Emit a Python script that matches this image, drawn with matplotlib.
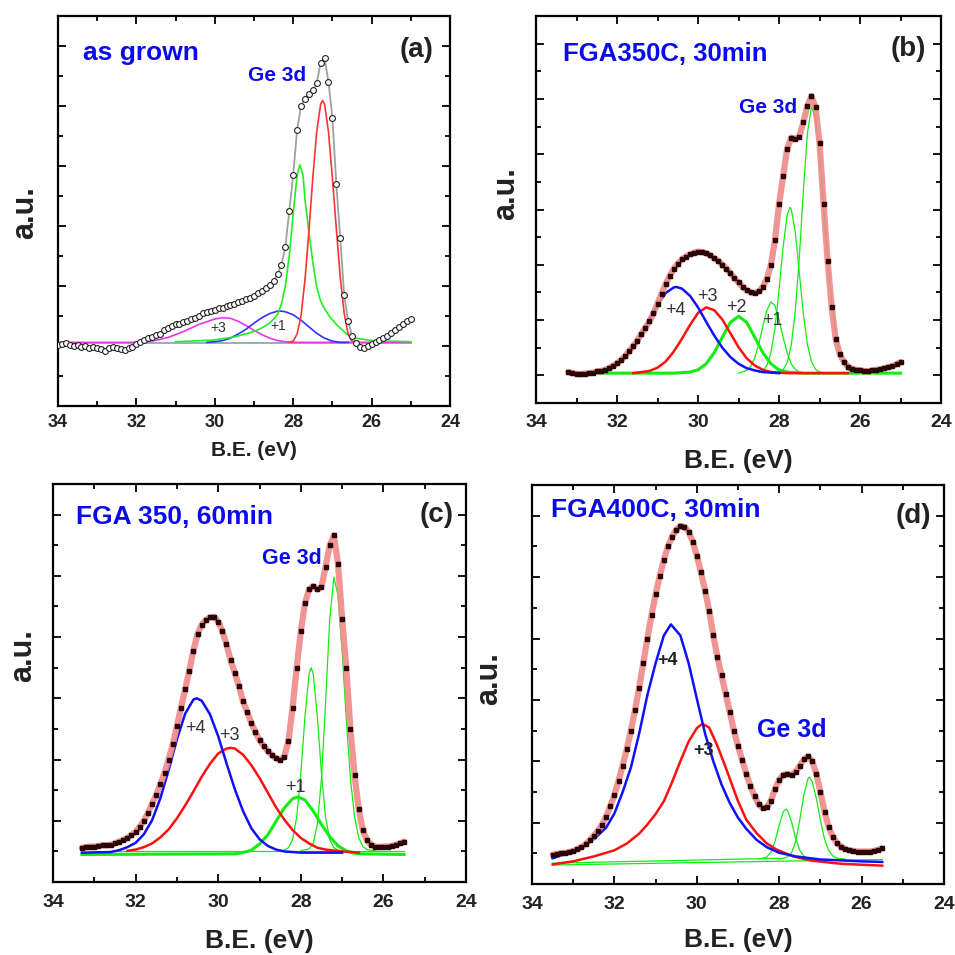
import numpy as np
import matplotlib
matplotlib.use("Agg")
import matplotlib.pyplot as plt
from matplotlib.ticker import MultipleLocator

plt.rcParams["font.family"] = ["Liberation Sans", "DejaVu Sans"]

xticks = [34, 32, 30, 28, 26, 24]
xtick_labels = ["34", "32", "30", "28", "26", "24"]

# ---- (a) as grown ----
a_be = [34.0, 33.9, 33.8, 33.7, 33.6, 33.5, 33.4, 33.3, 33.2, 33.1,
        33.0, 32.9, 32.8, 32.7, 32.6, 32.5, 32.4, 32.3, 32.2, 32.1,
        32.0, 31.9, 31.8, 31.7, 31.6, 31.5, 31.4, 31.3, 31.2, 31.1,
        31.0, 30.9, 30.8, 30.7, 30.6, 30.5, 30.4, 30.3, 30.2, 30.1,
        30.0, 29.9, 29.8, 29.7, 29.6, 29.5, 29.4, 29.3, 29.2, 29.1,
        29.0, 28.9, 28.8, 28.7, 28.6, 28.5, 28.4, 28.3, 28.2, 28.1,
        28.0, 27.9, 27.8, 27.7, 27.6, 27.5, 27.4, 27.3, 27.2, 27.1,
        27.0, 26.9, 26.8, 26.7, 26.6, 26.5, 26.4, 26.3, 26.2, 26.1,
        26.0, 25.9, 25.8, 25.7, 25.6, 25.5, 25.4, 25.3, 25.2, 25.1,
        25.0]
a_cnt = [1.02, 1.03, 1.05, 1.02, 1.00, 1.01, 0.99, 1.00, 0.97, 0.99,
         0.96, 0.95, 0.92, 0.96, 0.99, 0.97, 0.95, 0.93, 0.97, 0.99,
         1.03, 1.07, 1.10, 1.13, 1.15, 1.18, 1.20, 1.27, 1.30, 1.33,
         1.36, 1.37, 1.40, 1.42, 1.45, 1.47, 1.50, 1.55, 1.57, 1.58,
         1.60, 1.63, 1.64, 1.67, 1.69, 1.70, 1.73, 1.75, 1.78, 1.80,
         1.83, 1.88, 1.92, 1.96, 2.02, 2.08, 2.20, 2.35, 2.65, 3.25,
         3.85, 4.60, 5.00, 5.12, 5.20, 5.26, 5.38, 5.72, 5.80, 5.40,
         4.80, 3.70, 2.80, 1.85, 1.42, 1.17, 1.05, 0.98, 0.96, 1.00,
         1.03, 1.06, 1.10, 1.13, 1.17, 1.22, 1.27, 1.32, 1.36, 1.42,
         1.45]
a_red_be = [28.1, 28.0, 27.9, 27.8, 27.7, 27.6, 27.5, 27.4, 27.3, 27.25,
            27.2, 27.1, 27.0, 26.9, 26.8, 26.7, 26.6, 26.5, 26.4]
a_red = [1.06, 1.08, 1.20, 1.50, 2.10, 2.90, 3.80, 4.57, 5.03, 5.09,
         5.03, 4.57, 3.80, 2.96, 2.15, 1.55, 1.20, 1.08, 1.06]
a_grn_be = [31.0, 30.0, 29.5, 29.0, 28.8, 28.6, 28.4, 28.3, 28.2, 28.1,
            28.0, 27.9, 27.83, 27.75, 27.7, 27.6, 27.5, 27.4, 27.3, 27.2,
            27.06, 26.9, 26.64, 26.4, 26.0, 25.0]
a_grn = [1.07, 1.10, 1.15, 1.24, 1.30, 1.38, 1.52, 1.70, 2.00, 2.50,
         3.20, 3.85, 4.02, 3.85, 3.45, 2.90, 2.40, 1.98, 1.75, 1.62,
         1.48, 1.36, 1.20, 1.13, 1.09, 1.07]
a_blu_be = [30.2, 30.0, 29.8, 29.6, 29.4, 29.2, 29.0, 28.8, 28.6, 28.4,
            28.3, 28.2, 28.0, 27.8, 27.6, 27.4, 27.2, 27.0, 26.8, 26.6]
a_blu = [1.06, 1.07, 1.09, 1.13, 1.20, 1.28, 1.38, 1.47, 1.54, 1.58,
         1.58, 1.57, 1.52, 1.43, 1.32, 1.21, 1.13, 1.08, 1.06, 1.06]
a_mag_be = [34.0, 32.0, 31.6, 31.2, 30.8, 30.4, 30.0, 29.8, 29.6, 29.4,
            29.2, 29.0, 28.8, 28.6, 28.4, 28.2, 28.0, 25.0]
a_mag = [1.06, 1.06, 1.08, 1.14, 1.24, 1.36, 1.45, 1.47, 1.46, 1.41,
         1.34, 1.26, 1.19, 1.13, 1.09, 1.07, 1.06, 1.06]
a_base_be = [34.0, 25.0]
a_base = [1.05, 1.05]

# ---- (b) FGA 350C 30 min ----
b_be = [33.2, 33.1, 33.0, 32.9, 32.8, 32.7, 32.6, 32.5, 32.4, 32.3,
        32.2, 32.1, 32.0, 31.9, 31.8, 31.7, 31.6, 31.5, 31.4, 31.3,
        31.2, 31.1, 31.0, 30.9, 30.8, 30.7, 30.6, 30.5, 30.4, 30.3,
        30.2, 30.1, 30.0, 29.9, 29.8, 29.7, 29.6, 29.5, 29.4, 29.3,
        29.2, 29.1, 29.0, 28.9, 28.8, 28.7, 28.6, 28.5, 28.4, 28.3,
        28.2, 28.1, 28.0, 27.9, 27.8, 27.7, 27.6, 27.5, 27.4, 27.3,
        27.2, 27.1, 27.0, 26.9, 26.8, 26.7, 26.6, 26.5, 26.4, 26.3,
        26.2, 26.1, 26.0, 25.9, 25.8, 25.7, 25.6, 25.5, 25.4, 25.3,
        25.2, 25.1, 25.0]
b_cnt = [0.06, 0.04, 0.03, 0.02, 0.03, 0.04, 0.05, 0.07, 0.08, 0.10,
         0.13, 0.17, 0.22, 0.28, 0.35, 0.44, 0.53, 0.63, 0.75, 0.86,
         0.98, 1.12, 1.30, 1.48, 1.65, 1.80, 1.93, 2.02, 2.10, 2.15,
         2.19, 2.22, 2.24, 2.23, 2.21, 2.17, 2.12, 2.07, 2.00, 1.93,
         1.85, 1.76, 1.68, 1.60, 1.54, 1.50, 1.49, 1.52, 1.60, 1.75,
         2.00, 2.45, 3.10, 3.60, 4.10, 4.30, 4.28, 4.32, 4.58, 4.88,
         5.05, 4.85, 4.20, 3.10, 2.06, 1.23, 0.65, 0.38, 0.25, 0.16,
         0.12, 0.10, 0.09, 0.08, 0.07, 0.09, 0.10, 0.11, 0.13, 0.15,
         0.17, 0.20, 0.24]
b_blu_be = [33.2, 32.6, 32.2, 32.0, 31.8, 31.6, 31.4, 31.2, 31.0, 30.8,
            30.6, 30.54, 30.4, 30.2, 30.0, 29.8, 29.6, 29.4, 29.2, 29.0,
            28.8, 28.6, 28.4, 28.0]
b_blu = [0.04, 0.05, 0.12, 0.20, 0.32, 0.50, 0.74, 1.01, 1.28, 1.49,
         1.59, 1.60, 1.57, 1.44, 1.23, 0.97, 0.72, 0.50, 0.33, 0.21,
         0.13, 0.09, 0.06, 0.04]
b_red_be = [31.6, 31.2, 31.0, 30.8, 30.6, 30.4, 30.2, 30.0, 29.8, 29.6,
            29.4, 29.2, 29.0, 28.8, 28.6, 28.4, 28.2, 27.8, 26.3]
b_red = [0.04, 0.08, 0.14, 0.25, 0.43, 0.66, 0.91, 1.13, 1.23, 1.18,
         1.01, 0.76, 0.51, 0.31, 0.18, 0.10, 0.06, 0.04, 0.04]
b_g2_be = [33.2, 30.6, 30.2, 30.0, 29.8, 29.6, 29.4, 29.2, 29.0, 28.8,
           28.6, 28.4, 28.2, 28.0, 27.8, 27.4, 25.0]
b_g2 = [0.04, 0.04, 0.06, 0.10, 0.21, 0.41, 0.69, 0.96, 1.07, 0.96,
        0.69, 0.41, 0.21, 0.10, 0.06, 0.04, 0.04]
b_g1_be = [29.0, 28.8, 28.7, 28.6, 28.5, 28.4, 28.3, 28.2, 28.1, 28.0,
           27.9, 27.8, 27.7, 27.6, 27.5, 27.3]
b_g1 = [0.04, 0.09, 0.16, 0.32, 0.57, 0.89, 1.18, 1.33, 1.26, 1.01,
        0.69, 0.41, 0.21, 0.11, 0.06, 0.04]
b_gm_be = [28.5, 28.4, 28.3, 28.2, 28.1, 28.0, 27.9, 27.8, 27.73, 27.7,
           27.6, 27.5, 27.4, 27.3, 27.2, 27.1, 27.0, 26.8]
b_gm = [0.05, 0.08, 0.18, 0.41, 0.86, 1.55, 2.32, 2.90, 3.04, 3.01,
        2.60, 1.86, 1.11, 0.56, 0.25, 0.11, 0.06, 0.04]
b_gt_be = [28.0, 27.9, 27.8, 27.7, 27.6, 27.5, 27.4, 27.3, 27.2, 27.1,
           27.0, 26.9, 26.8, 26.7, 26.6, 26.5, 26.4, 26.3, 26.2, 26.0]
b_gt = [0.06, 0.10, 0.23, 0.54, 1.16, 2.13, 3.33, 4.38, 4.86, 4.65,
        3.98, 3.06, 2.11, 1.31, 0.74, 0.38, 0.19, 0.10, 0.06, 0.04]

# ---- (c) FGA 350 60 min ----
c_be = [33.3, 33.2, 33.1, 33.0, 32.9, 32.8, 32.7, 32.6, 32.5, 32.4,
        32.3, 32.2, 32.1, 32.0, 31.9, 31.8, 31.7, 31.6, 31.5, 31.4,
        31.3, 31.2, 31.1, 31.0, 30.9, 30.8, 30.7, 30.6, 30.5, 30.4,
        30.3, 30.2, 30.1, 30.0, 29.9, 29.8, 29.7, 29.6, 29.5, 29.4,
        29.3, 29.2, 29.1, 29.0, 28.9, 28.8, 28.7, 28.6, 28.5, 28.4,
        28.3, 28.2, 28.1, 28.0, 27.9, 27.8, 27.7, 27.6, 27.5, 27.4,
        27.3, 27.2, 27.1, 27.0, 26.9, 26.8, 26.7, 26.6, 26.5, 26.4,
        26.3, 26.2, 26.1, 26.0, 25.9, 25.8, 25.7, 25.6, 25.5]
c_cnt = [0.56, 0.57, 0.58, 0.58, 0.59, 0.60, 0.60, 0.61, 0.63, 0.66,
         0.69, 0.72, 0.77, 0.82, 0.90, 1.00, 1.13, 1.28, 1.42, 1.60,
         1.78, 2.00, 2.25, 2.55, 2.85, 3.15, 3.45, 3.78, 4.05, 4.20,
         4.28, 4.32, 4.33, 4.25, 4.10, 3.88, 3.62, 3.42, 3.20, 2.95,
         2.78, 2.60, 2.45, 2.32, 2.22, 2.14, 2.07, 2.02, 1.99, 2.05,
         2.30, 2.85, 3.50, 4.10, 4.55, 4.78, 4.83, 4.78, 4.82, 5.15,
         5.50, 5.66, 5.20, 4.30, 3.50, 2.50, 1.75, 1.20, 0.85, 0.68,
         0.61, 0.58, 0.57, 0.58, 0.58, 0.59, 0.61, 0.63, 0.66]
c_blu_be = [33.3, 32.6, 32.4, 32.2, 32.0, 31.8, 31.6, 31.4, 31.2, 31.0,
            30.8, 30.6, 30.52, 30.4, 30.2, 30.0, 29.8, 29.6, 29.4, 29.2,
            29.0, 28.8, 28.6, 28.4, 28.0, 27.0]
c_blu = [0.48, 0.49, 0.52, 0.57, 0.64, 0.78, 1.01, 1.37, 1.83, 2.33,
         2.75, 2.98, 3.00, 2.96, 2.74, 2.38, 1.94, 1.52, 1.16, 0.88,
         0.70, 0.59, 0.53, 0.50, 0.48, 0.48]
c_red_be = [32.2, 32.0, 31.8, 31.6, 31.4, 31.2, 31.0, 30.8, 30.6, 30.4,
            30.2, 30.0, 29.8, 29.7, 29.6, 29.4, 29.2, 29.0, 28.8, 28.6,
            28.4, 28.2, 28.0, 27.8, 27.6, 27.4, 27.0, 26.6]
c_red = [0.51, 0.53, 0.57, 0.63, 0.73, 0.86, 1.04, 1.25, 1.48, 1.72,
         1.93, 2.10, 2.18, 2.19, 2.18, 2.08, 1.91, 1.70, 1.46, 1.22,
         1.02, 0.85, 0.72, 0.63, 0.56, 0.53, 0.50, 0.48]
c_g1_be = [33.3, 29.6, 29.4, 29.2, 29.0, 28.8, 28.6, 28.4, 28.2, 28.07,
           27.9, 27.7, 27.5, 27.3, 27.1, 26.9, 26.7, 26.5, 25.5]
c_g1 = [0.45, 0.46, 0.48, 0.52, 0.62, 0.77, 0.99, 1.21, 1.36, 1.39,
        1.34, 1.16, 0.94, 0.74, 0.59, 0.51, 0.47, 0.46, 0.45]
c_gm_be = [28.5, 28.4, 28.3, 28.2, 28.1, 28.0, 27.9, 27.8, 27.75, 27.7,
           27.6, 27.5, 27.4, 27.3, 27.2, 27.1, 27.0]
c_gm = [0.51, 0.52, 0.56, 0.69, 1.06, 1.77, 2.70, 3.40, 3.50, 3.40,
        2.70, 1.77, 1.06, 0.69, 0.56, 0.52, 0.51]
c_gt_be = [28.0, 27.8, 27.7, 27.6, 27.5, 27.4, 27.3, 27.2, 27.1, 27.0,
           26.9, 26.8, 26.7, 26.6, 26.5, 26.4, 26.2]
c_gt = [0.51, 0.54, 0.63, 0.94, 1.69, 2.94, 4.29, 4.98, 4.68, 3.78,
        2.66, 1.70, 1.07, 0.73, 0.58, 0.53, 0.51]
c_base_be = [32.6, 25.5]
c_base = [0.51, 0.51]

# ---- (d) FGA 400C 30 min ----
d_be = [33.5, 33.4, 33.3, 33.2, 33.1, 33.0, 32.9, 32.8, 32.7, 32.6,
        32.5, 32.4, 32.3, 32.2, 32.1, 32.0, 31.9, 31.8, 31.7, 31.6,
        31.5, 31.4, 31.3, 31.2, 31.1, 31.0, 30.9, 30.8, 30.7, 30.6,
        30.5, 30.4, 30.3, 30.2, 30.1, 30.0, 29.9, 29.8, 29.7, 29.6,
        29.5, 29.4, 29.3, 29.2, 29.1, 29.0, 28.9, 28.8, 28.7, 28.6,
        28.5, 28.4, 28.3, 28.2, 28.1, 28.0, 27.9, 27.8, 27.7, 27.6,
        27.5, 27.4, 27.3, 27.2, 27.1, 27.0, 26.9, 26.8, 26.7, 26.6,
        26.5, 26.4, 26.3, 26.2, 26.1, 26.0, 25.9, 25.8, 25.7, 25.6,
        25.5]
d_cnt = [0.48, 0.49, 0.50, 0.51, 0.52, 0.54, 0.57, 0.60, 0.65, 0.71,
         0.79, 0.87, 0.97, 1.10, 1.27, 1.45, 1.68, 1.93, 2.20, 2.50,
         2.83, 3.20, 3.60, 4.00, 4.38, 4.72, 5.02, 5.28, 5.50, 5.66,
         5.77, 5.83, 5.82, 5.74, 5.58, 5.35, 5.08, 4.78, 4.45, 4.05,
         3.70, 3.40, 3.10, 2.80, 2.50, 2.25, 2.02, 1.80, 1.60, 1.43,
         1.30, 1.24, 1.25, 1.36, 1.55, 1.70, 1.78, 1.79, 1.78, 1.83,
         1.93, 2.03, 2.08, 2.00, 1.80, 1.50, 1.18, 0.93, 0.77, 0.67,
         0.61, 0.57, 0.55, 0.54, 0.53, 0.53, 0.53, 0.53, 0.54, 0.56,
         0.58]
d_blu_be = [33.5, 33.1, 32.8, 32.5, 32.2, 32.0, 31.8, 31.6, 31.4, 31.2,
            31.0, 30.8, 30.63, 30.4, 30.2, 30.0, 29.8, 29.6, 29.4, 29.2,
            29.0, 28.8, 28.55, 28.3, 28.0, 27.6, 27.0, 26.0, 25.5]
d_blu = [0.42, 0.51, 0.60, 0.73, 0.92, 1.15, 1.50, 1.90, 2.45, 3.08,
         3.60, 4.05, 4.23, 4.05, 3.60, 3.02, 2.45, 2.00, 1.62, 1.32,
         1.08, 0.90, 0.72, 0.60, 0.51, 0.45, 0.40, 0.37, 0.36]
d_red_be = [33.5, 33.0, 32.5, 32.0, 31.7, 31.4, 31.2, 31.0, 30.8, 30.6,
            30.4, 30.2, 30.0, 29.87, 29.7, 29.5, 29.3, 29.0, 28.8, 28.55,
            28.3, 28.06, 27.66, 27.2, 26.5, 25.5]
d_red = [0.32, 0.37, 0.45, 0.55, 0.66, 0.82, 0.97, 1.14, 1.35, 1.66,
         2.00, 2.32, 2.54, 2.61, 2.55, 2.25, 1.90, 1.35, 1.05, 0.83,
         0.66, 0.56, 0.45, 0.38, 0.33, 0.30]
d_g1_be = [28.5, 28.4, 28.3, 28.2, 28.1, 28.0, 27.9, 27.84, 27.8, 27.7,
           27.6, 27.5, 27.4, 27.3, 27.1]
d_g1 = [0.41, 0.42, 0.44, 0.52, 0.70, 0.96, 1.18, 1.22, 1.20, 1.01,
        0.74, 0.55, 0.45, 0.42, 0.41]
d_g2_be = [28.0, 27.9, 27.8, 27.7, 27.6, 27.5, 27.4, 27.3, 27.27, 27.2,
           27.1, 27.0, 26.9, 26.8, 26.7, 26.6, 26.4]
d_g2 = [0.41, 0.42, 0.44, 0.51, 0.70, 1.05, 1.46, 1.72, 1.74, 1.67,
        1.40, 1.04, 0.73, 0.55, 0.46, 0.42, 0.41]
d_base1_be = [33.5, 25.5]
d_base1 = [0.31, 0.40]
d_base2_be = [33.5, 28.0]
d_base2 = [0.34, 0.42]

BLUE = "#1010ff"
RED = "#ff1010"
GREEN = "#10ee10"
TXT_BLUE = "#0a0aee"
PINK = "#f08888"
DOT = "#2a0505"


def frame(ax, ylo, pad, tick_fs, xl_fs, xl_y, au_x, au_y):
    ax.set_xlim(34, 24)
    ax.set_ylim(ylo, 6.5)
    ax.set_xticks(xticks)
    ax.set_xticklabels(xtick_labels, fontweight="bold", fontsize=tick_fs, color="#222222")
    ax.xaxis.set_minor_locator(MultipleLocator(1))
    ax.yaxis.set_major_locator(MultipleLocator(1))
    ax.yaxis.set_minor_locator(MultipleLocator(0.5))
    ax.tick_params(which="both", direction="in", top=True, right=True,
                   width=1.3, labelleft=False)
    ax.tick_params(which="major", length=6, pad=pad)
    ax.tick_params(which="minor", length=3.5)
    for s in ax.spines.values():
        s.set_linewidth(1.6)
    ax.text(0.5, xl_y, "B.E. (eV)", transform=ax.transAxes, ha="center", va="center",
            fontsize=xl_fs, fontweight="bold", color="#222222")
    ax.text(au_x, au_y, "a.u.", transform=ax.transAxes, ha="center", va="center",
            rotation=90, fontsize=22, fontweight="bold", color="#222222")


def measured(ax, be, cnt):
    ax.plot(be, cnt, color=PINK, lw=4.5, alpha=0.9, solid_capstyle="round", zorder=3)
    ax.plot(be, cnt, "s", color=DOT, ms=2.2, zorder=4)


fig = plt.figure(figsize=(9.55, 9.55), dpi=100)

# (a)
ax = fig.add_axes([0.0607, 0.5749, 0.4105, 0.4084])
ax.plot(a_base_be, a_base, color="#7aa7b0", lw=1.2)
ax.plot(a_mag_be, a_mag, color="#ee33ee", lw=1.2)
ax.plot(a_blu_be, a_blu, color="#3333ff", lw=1.2)
ax.plot(a_grn_be, a_grn, color="#22ee22", lw=1.2)
ax.plot(a_red_be, a_red, color="#ff3333", lw=1.2)
ax.plot(a_be, a_cnt, color="#a0a0a0", lw=1.3, marker="o", ms=4.2, mfc="white",
        mec="#222222", mew=0.8, zorder=4)
ax.text(33.36, 5.76, "as grown", color=TXT_BLUE, fontsize=19, fontweight="bold")
ax.text(24.43, 5.94, "(a)", ha="right", va="center", fontsize=20, fontweight="bold",
        color="#222222")
ax.text(29.15, 5.41, "Ge 3d", color=TXT_BLUE, fontsize=15, fontweight="bold")
ax.text(29.91, 1.30, "+3", ha="center", va="center", fontsize=10, color="#333333")
ax.text(28.39, 1.34, "+1", ha="center", va="center", fontsize=10, color="#333333")
frame(ax, 0, 6, 13, 15, -0.115, -0.084, 0.495)

# (b)
ax = fig.add_axes([0.5613, 0.578, 0.4241, 0.4052])
ax.plot(b_g2_be, b_g2, color=GREEN, lw=2.2)
ax.plot(b_g1_be, b_g1, color=GREEN, lw=0.9)
ax.plot(b_gm_be, b_gm, color=GREEN, lw=0.9)
ax.plot(b_gt_be, b_gt, color=GREEN, lw=0.9)
ax.plot(b_red_be, b_red, color=RED, lw=1.8)
ax.plot(b_blu_be, b_blu, color=BLUE, lw=1.8)
measured(ax, b_be, b_cnt)
ax.text(33.33, 5.69, "FGA350C, 30min", color=TXT_BLUE, fontsize=18.5, fontweight="bold")
ax.text(24.37, 5.90, "(b)", ha="right", va="center", fontsize=20, fontweight="bold",
        color="#222222")
ax.text(29.0, 4.74, "Ge 3d", color=TXT_BLUE, fontsize=15, fontweight="bold")
for lbl, x, y in [("+4", 30.57, 1.17), ("+3", 29.78, 1.43), ("+2", 29.05, 1.23),
                  ("+1", 28.17, 0.99)]:
    ax.text(x, y, lbl, ha="center", va="center", fontsize=13, color="#333333", zorder=5)
frame(ax, -0.5, 8, 14, 19, -0.15, -0.074, 0.54)

# (c)
ax = fig.add_axes([0.0555, 0.0764, 0.4325, 0.4168])
ax.plot(c_g1_be, c_g1, color=GREEN, lw=2.2)
ax.plot(c_base_be, c_base, color=GREEN, lw=0.9)
ax.plot(c_gm_be, c_gm, color=GREEN, lw=0.9)
ax.plot(c_gt_be, c_gt, color=GREEN, lw=0.9)
ax.plot(c_red_be, c_red, color=RED, lw=1.8)
ax.plot(c_blu_be, c_blu, color=BLUE, lw=1.8)
measured(ax, c_be, c_cnt)
ax.text(33.44, 5.85, "FGA 350, 60min", color=TXT_BLUE, fontsize=19, fontweight="bold")
ax.text(24.31, 5.99, "(c)", ha="right", va="center", fontsize=20, fontweight="bold",
        color="#222222")
ax.text(28.93, 5.20, "Ge 3d", color=TXT_BLUE, fontsize=15.5, fontweight="bold")
for lbl, x, y in [("+4", 30.56, 2.51), ("+3", 29.73, 2.39), ("+1", 28.14, 1.54)]:
    ax.text(x, y, lbl, ha="center", va="center", fontsize=13, color="#333333", zorder=5)
frame(ax, 0, 8.5, 14, 19, -0.148, -0.073, 0.57)

# (d)
ax = fig.add_axes([0.5571, 0.0743, 0.4314, 0.4178])
ax.plot(d_base1_be, d_base1, color=GREEN, lw=0.9)
ax.plot(d_base2_be, d_base2, color=GREEN, lw=0.9)
ax.plot(d_g1_be, d_g1, color=GREEN, lw=0.9)
ax.plot(d_g2_be, d_g2, color=GREEN, lw=0.9)
ax.plot(d_red_be, d_red, color=RED, lw=1.8)
ax.plot(d_blu_be, d_blu, color=BLUE, lw=1.8)
measured(ax, d_be, d_cnt)
ax.text(33.53, 5.98, "FGA400C, 30min", color=TXT_BLUE, fontsize=19, fontweight="bold")
ax.text(24.31, 5.99, "(d)", ha="right", va="center", fontsize=20, fontweight="bold",
        color="#222222")
ax.text(28.55, 2.39, "Ge 3d", color=TXT_BLUE, fontsize=18, fontweight="bold")
ax.text(30.70, 3.64, "+4", ha="center", va="center", fontsize=13, fontweight="bold",
        color="#222222", zorder=5)
ax.text(29.85, 2.17, "+3", ha="center", va="center", fontsize=13, fontweight="bold",
        color="#222222", zorder=5)
frame(ax, 0, 8.5, 14, 19, -0.14, -0.104, 0.516)

fig.savefig("out.png", dpi=100, facecolor="white")
